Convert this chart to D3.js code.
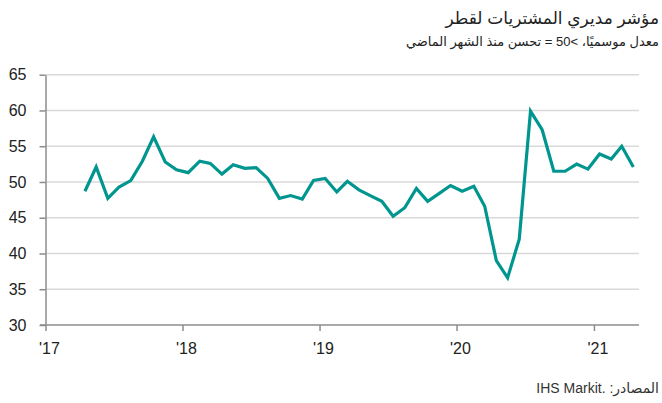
<!DOCTYPE html>
<html>
<head>
<meta charset="utf-8">
<script src="https://cdn.jsdelivr.net/npm/d3@7"></script>
<style>
  html, body { margin: 0; padding: 0; background: #fff; }
  svg { display: block; font-family: "Liberation Sans", Arial, "DejaVu Sans", sans-serif; }
</style>
</head>
<body>
<svg id="chart" width="662" height="403"></svg>
<script>
// ---- data ----
const title = "مؤشر مديري المشتريات لقطر";
const subtitle = "معدل موسميًا، >50 = تحسن منذ الشهر الماضي";
const source = "المصادر: .IHS Markit";
const startMonth = [2017, 3]; // April 2017 (month index 0-based)
const values = [
  48.7, 52.1, 47.7, 49.3, 50.2, 52.9, 56.3, 52.8, 51.7, 51.3, 52.9, 52.6,
  51.1, 52.4, 51.9, 52.0, 50.5, 47.7, 48.1, 47.6, 50.2, 50.5, 48.6, 50.1,
  48.9, 48.1, 47.3, 45.2, 46.4, 49.1, 47.3, 48.4, 49.5, 48.7, 49.4, 46.6,
  39.0, 36.6, 42.0, 59.9, 57.3, 51.5, 51.5, 52.5, 51.8, 53.9, 53.2, 55.0,
  52.1
];
const yTicks = [30, 35, 40, 45, 50, 55, 60, 65];
const xTickYears = [2017, 2018, 2019, 2020, 2021];
const xTickLabels = ["'17", "'18", "'19", "'20", "'21"];

// ---- build ----
const data = values.map((v, i) => ({
  date: new Date(startMonth[0], startMonth[1] + i, 16),
  value: v
}));

const svg = d3.select("#chart");
const x = d3.scaleTime()
  .domain([new Date(2017, 0, 1), new Date(2021, 4, 1)])
  .range([45.5, 639]);
const y = d3.scaleLinear().domain([30, 65]).range([325, 74.7]);

// gridlines
svg.append("g")
  .selectAll("line")
  .data(yTicks.filter(d => d > 30))
  .join("line")
  .attr("x1", 45.5).attr("x2", 639)
  .attr("y1", d => y(d)).attr("y2", d => y(d))
  .attr("stroke", "#d9d9d9").attr("stroke-width", 1.5);

// y axis
const yAxis = svg.append("g")
  .attr("transform", "translate(45.5,0)")
  .call(d3.axisLeft(y).tickValues(yTicks).tickSize(6).tickPadding(13).tickSizeOuter(0));
yAxis.select(".domain").attr("stroke", "#8c8c8c").attr("stroke-width", 1.5);
yAxis.selectAll(".tick line").attr("stroke", "#8c8c8c").attr("stroke-width", 1.5);
yAxis.selectAll(".tick text")
  .attr("fill", "#222").attr("font-size", 16)
  .attr("font-family", "'Liberation Sans', Arial, sans-serif");

// x axis
const xAxis = svg.append("g")
  .attr("transform", "translate(0,325)")
  .call(d3.axisBottom(x)
    .tickValues(xTickYears.map(yr => new Date(yr, 0, 1)))
    .tickFormat((d, i) => xTickLabels[i])
    .tickSize(6).tickPadding(12).tickSizeOuter(0));
xAxis.select(".domain").attr("stroke", "#8c8c8c").attr("stroke-width", 1.5)
  .attr("d", "M40,0H639");
xAxis.selectAll(".tick line").attr("stroke", "#8c8c8c").attr("stroke-width", 1.5);
xAxis.selectAll(".tick text")
  .attr("fill", "#222").attr("font-size", 16)
  .attr("text-anchor", "start").attr("dx", -7)
  .attr("font-family", "'Liberation Sans', Arial, sans-serif");

// line
const line = d3.line().x(d => x(d.date)).y(d => y(d.value));
svg.append("path")
  .datum(data)
  .attr("d", line)
  .attr("fill", "none")
  .attr("stroke", "#00968f")
  .attr("stroke-width", 3.2)
  .attr("stroke-linejoin", "miter")
  .attr("stroke-linecap", "butt");

// titles
svg.append("text")
  .attr("x", 659).attr("y", 24)
  .attr("direction", "rtl").attr("text-anchor", "start")
  .attr("font-size", 17).attr("fill", "#222")
  .text(title);
svg.append("text")
  .attr("x", 659).attr("y", 46)
  .attr("direction", "rtl").attr("text-anchor", "start")
  .attr("font-size", 13).attr("fill", "#222")
  .text(subtitle);
svg.append("text")
  .attr("x", 659).attr("y", 393)
  .attr("direction", "rtl").attr("text-anchor", "start")
  .attr("font-size", 14).attr("fill", "#333")
  .text(source);
</script>
</body>
</html>
